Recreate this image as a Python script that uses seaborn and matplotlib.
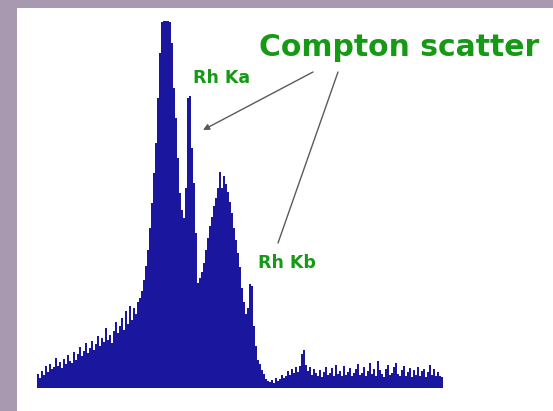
import numpy as np
import matplotlib
matplotlib.use("Agg")
import matplotlib.pyplot as plt
import seaborn as sns

# Spectrum counts (one value per channel)
counts_low = [14, 10, 17, 13, 22, 16, 24, 19, 21, 30, 22, 26, 20, 29, 24, 33, 27, 25, 36, 28,
              34, 41, 32, 37, 45, 35, 40, 47, 38, 44, 52, 42, 50, 46, 60, 48, 53, 45, 57, 66,
              55, 62, 70, 58, 77, 64, 82, 68, 80, 74, 86]
counts_peaks = [90, 97, 108, 122, 138, 160, 185, 215, 245, 290, 335, 366, 367, 367, 367, 366, 345, 300,
                270, 230, 195, 178, 170, 200, 290, 292, 240, 205, 155, 105, 110, 116, 125, 138, 150,
                162, 171, 182, 190, 200, 216, 200, 212, 204, 196, 186, 175, 160, 148, 135, 121, 100,
                86, 74, 80, 104, 102, 62, 42, 28, 24, 18, 14, 9, 7, 6]
counts_tail = [8, 5, 10, 7, 9, 13, 10, 12, 17, 13, 19, 15, 21, 16, 22, 34, 38, 23, 17, 21,
               13, 19, 15, 12, 18, 11, 16, 21, 13, 15, 20, 12, 23, 14, 17, 12, 22, 13, 16, 20,
               12, 15, 19, 24, 13, 15, 21, 12, 17, 25, 14, 19, 12, 27, 18, 14, 11, 19, 23, 13,
               15, 21, 25, 14, 12, 18, 22, 12, 16, 20, 11, 18, 13, 21, 12, 17, 19, 11, 16, 23,
               13, 19, 12, 16, 12, 11]
counts = counts_low + counts_peaks + counts_tail
channel = np.arange(len(counts))

title_text = "Compton scatter"
label_ka = "Rh Ka"
label_kb = "Rh Kb"

W, H = 553, 411
BG = "#A898B0"
BLUE = "#1A169E"
GREEN = "#169A16"
LINE = "#5A5A5A"

fig = plt.figure(figsize=(W / 100, H / 100), dpi=100, facecolor=BG)
ax = fig.add_axes([17 / W, 0, 1 - 17 / W, (H - 8) / H])
ax.set_facecolor("white")

sns.histplot(x=channel, weights=counts, discrete=True, element="step", fill=True,
             color=BLUE, alpha=1, linewidth=0, ax=ax)

ax.set_xlim(-10.5, 257.5)
ax.set_ylim(-23, 380)
for s in ax.spines.values():
    s.set_visible(False)
ax.set_xticks([])
ax.set_yticks([])
ax.set_xlabel("")
ax.set_ylabel("")


def fp(x, y):
    return (x / W, 1 - y / H)


fig.text(*fp(259, 56), title_text, color=GREEN, fontsize=21.5, fontweight="bold",
         family="DejaVu Sans", ha="left", va="baseline")
fig.text(*fp(193, 83), label_ka, color=GREEN, fontsize=12.5, fontweight="bold",
         family="DejaVu Sans", ha="left", va="baseline")
fig.text(*fp(258, 268), label_kb, color=GREEN, fontsize=12.5, fontweight="bold",
         family="DejaVu Sans", ha="left", va="baseline")

ax.annotate("", xy=fp(203, 130), xytext=fp(313, 72), xycoords="figure fraction",
            textcoords="figure fraction",
            arrowprops=dict(arrowstyle="-|>", color=LINE, lw=1.0, mutation_scale=9,
                            shrinkA=0, shrinkB=0))
ax.annotate("", xy=fp(278, 243), xytext=fp(338, 72), xycoords="figure fraction",
            textcoords="figure fraction",
            arrowprops=dict(arrowstyle="-", color=LINE, lw=1.0, shrinkA=0, shrinkB=0))

fig.savefig("out.png", dpi=100, facecolor=BG)
